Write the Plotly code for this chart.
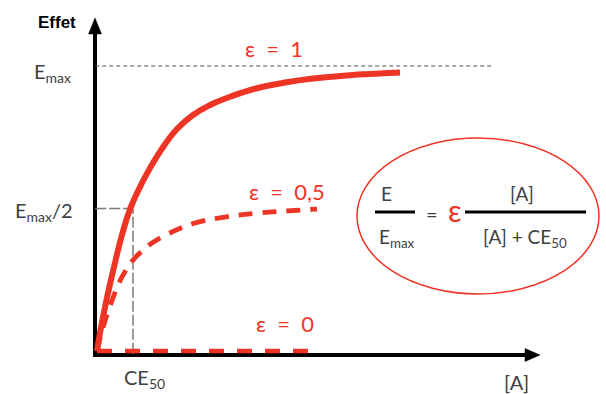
import plotly.graph_objects as go

W, H = 606, 394

# Concentration [A] expressed in units of CE50, effect as a fraction of Emax
conc_full = [0, 0.083, 0.264, 0.472, 0.708, 0.931, 1.25, 1.778, 2.222, 2.667, 3.139,
             3.694, 4.436, 5.222, 6.0, 6.944, 8.417]
effect_full = [0, 0.063, 0.179, 0.295, 0.414, 0.502, 0.590, 0.705, 0.779, 0.828, 0.863,
               0.892, 0.922, 0.942, 0.956, 0.967, 0.977]

conc_half = [0, 0.139, 0.292, 0.444, 0.611, 0.806, 1.0, 1.278, 1.528, 1.972, 2.722,
             3.556, 4.472, 5.222, 6.111]
effect_half = [0, 0.070, 0.133, 0.186, 0.239, 0.284, 0.319, 0.354, 0.379, 0.411, 0.449,
               0.470, 0.484, 0.491, 0.498]

conc_zero = [0, 5.86]
effect_zero = [0, 0]

emax = 1.0
ce50 = 1.0

RED = "#ee3424"
GREY_TXT = "#404040"
TXT_FONT = "Lato, 'Open Sans', sans-serif"
SP = "\u00a0\u00a0"


def px(x):
    return x / W


def py(y):
    return 1 - y / H


fig = go.Figure()

fig.add_trace(go.Scatter(x=conc_full, y=effect_full, mode="lines",
                         line=dict(color=RED, width=6, shape="spline", smoothing=1.3),
                         hoverinfo="skip"))
fig.add_trace(go.Scatter(x=conc_half, y=effect_half, mode="lines",
                         line=dict(color=RED, width=4.8, dash="14px,10px", shape="spline", smoothing=1.1),
                         hoverinfo="skip"))
fig.add_trace(go.Scatter(x=conc_zero, y=effect_zero, mode="lines",
                         line=dict(color=RED, width=4.5, dash="15px,13px"),
                         hoverinfo="skip"))

shapes = []
# reference lines at Emax, Emax/2 and CE50
shapes.append(dict(type="line", xref="x", yref="y", x0=-0.05, x1=11.0, y0=emax, y1=emax,
                   line=dict(color="#555555", width=1.2, dash="4px,3px"), layer="below"))
shapes.append(dict(type="line", xref="x", yref="y", x0=-0.05, x1=ce50, y0=emax / 2, y1=emax / 2,
                   line=dict(color="#7a7a7a", width=1.5, dash="11px,3px"), layer="below"))
shapes.append(dict(type="line", xref="x", yref="y", x0=ce50, x1=ce50, y0=-0.01, y1=emax / 2,
                   line=dict(color="#7a7a7a", width=1.5, dash="11px,3px"), layer="below"))

# axes with arrow heads
shapes.append(dict(type="line", xref="paper", yref="paper", x0=px(95), x1=px(95), y0=py(357), y1=py(30),
                   line=dict(color="black", width=4), layer="below"))
shapes.append(dict(type="path", xref="paper", yref="paper",
                   path=f"M {px(95)},{py(18)} L {px(88.5)},{py(34)} L {px(101.5)},{py(34)} Z",
                   fillcolor="black", line=dict(color="black", width=0.5)))
shapes.append(dict(type="line", xref="paper", yref="paper", x0=px(93), x1=px(528), y0=py(355), y1=py(355),
                   line=dict(color="black", width=4), layer="below"))
shapes.append(dict(type="path", xref="paper", yref="paper",
                   path=f"M {px(540)},{py(355)} L {px(525)},{py(348.5)} L {px(525)},{py(361.5)} Z",
                   fillcolor="black", line=dict(color="black", width=0.5)))

# ellipse around the formula
shapes.append(dict(type="circle", xref="paper", yref="paper", x0=px(357), x1=px(599), y0=py(294), y1=py(138),
                   line=dict(color=RED, width=1.5)))
# fraction bars
shapes.append(dict(type="line", xref="paper", yref="paper", x0=px(375), x1=px(415), y0=py(212), y1=py(212),
                   line=dict(color="black", width=3)))
shapes.append(dict(type="line", xref="paper", yref="paper", x0=px(465), x1=px(586), y0=py(212), y1=py(212),
                   line=dict(color="black", width=3)))


def label(text, x, y, size, color=GREY_TXT, family=TXT_FONT, xanchor="center"):
    return dict(text=text, x=px(x), y=py(y), xref="paper", yref="paper", showarrow=False,
                xanchor=xanchor, yanchor="middle", font=dict(size=size, color=color, family=family))


annotations = [
    label("<b>Effet</b>", 57, 22, 17, color="black", family="'Liberation Sans', Arial, sans-serif"),
    label("E<sub>max</sub>", 32, 72, 20, xanchor="left"),
    label("E<sub>max</sub>/2", 13, 212, 20, xanchor="left"),
    label("CE<sub>50</sub>", 144, 378, 20),
    label("[A]", 516, 382, 20),
    label(f"ε{SP}={SP}1", 274, 48, 22, color=RED),
    label(f"ε{SP}={SP}0,5", 287, 191, 22, color=RED),
    label(f"ε{SP}={SP}0", 285, 323, 22, color=RED),
    # formula
    label("E", 386, 193, 19),
    label("E<sub>max</sub>", 397, 238, 19),
    label("=", 432, 214, 20),
    label("ε", 455, 210, 30, color=RED),
    label("[A]", 522, 193, 19),
    label("[A] + CE<sub>50</sub>", 525, 238, 19),
]

fig.update_layout(
    width=W, height=H,
    margin=dict(l=0, r=0, t=0, b=0),
    paper_bgcolor="white", plot_bgcolor="white",
    showlegend=False,
    xaxis=dict(range=[-97 / 36, 509 / 36], visible=False, fixedrange=True),
    yaxis=dict(range=[(351 - 394) / 285, 351 / 285], visible=False, fixedrange=True),
    shapes=shapes,
    annotations=annotations,
)

fig.write_html("out.html")
